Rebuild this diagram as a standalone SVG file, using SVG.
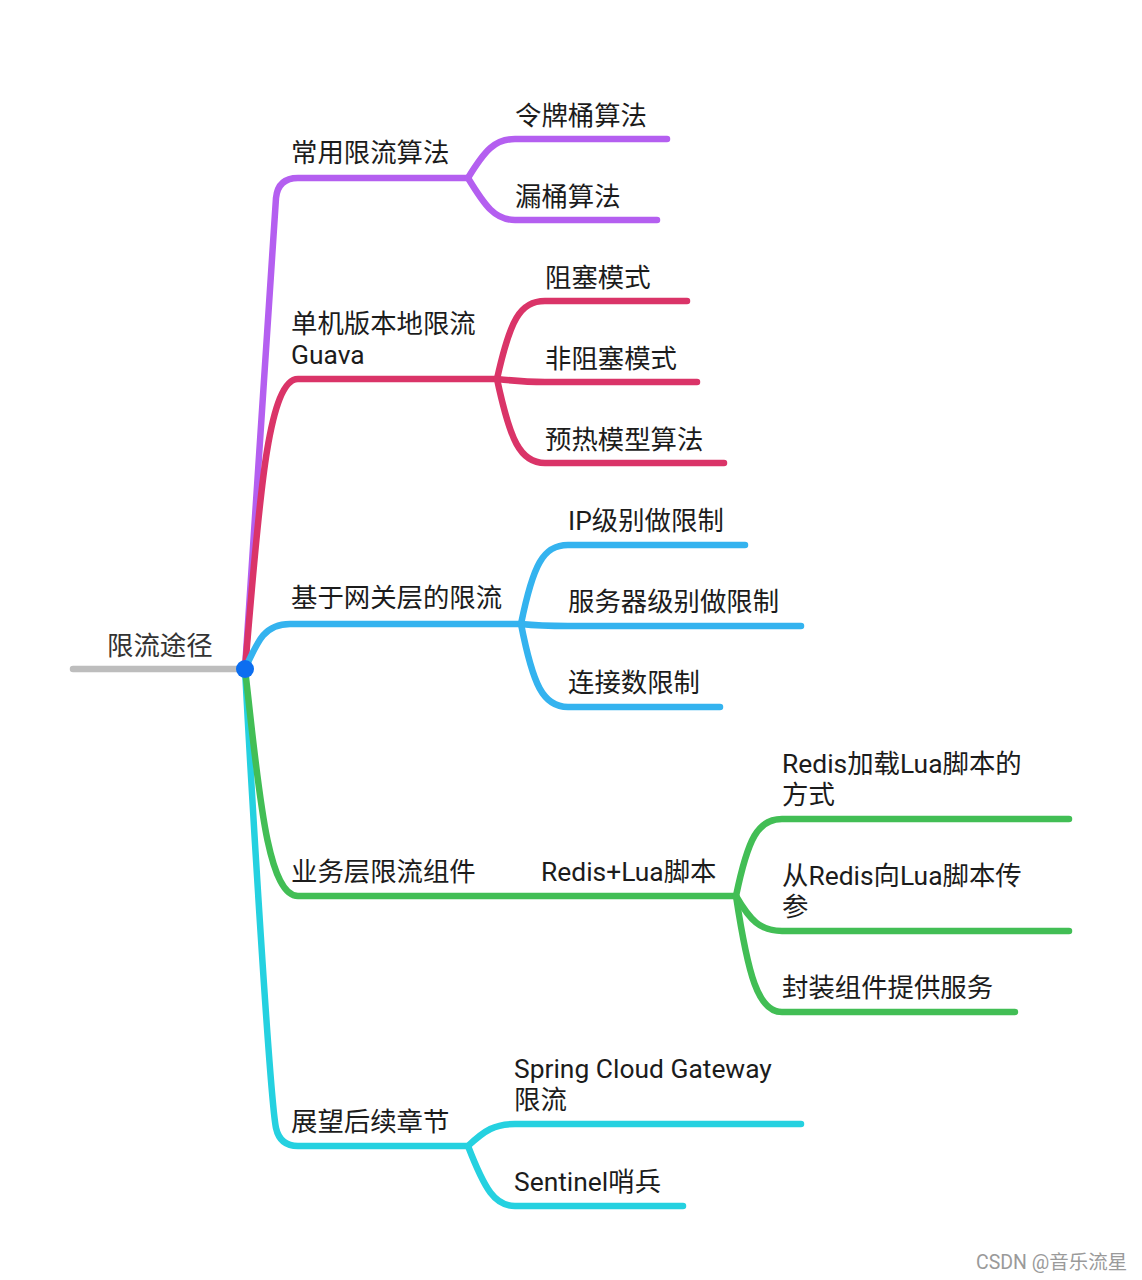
<svg xmlns="http://www.w3.org/2000/svg" width="1142" height="1280" viewBox="0 0 1142 1280">
<style>
text{font-family:Roboto,"Noto Sans CJK SC",sans-serif;font-size:26.4px;fill:#1c1c1c}
.l{fill:none;stroke-width:6.5;stroke-linecap:round;stroke-linejoin:round}
.pu{stroke:#b45ff0}.re{stroke:#da3468}.bl{stroke:#34b3ef}.gr{stroke:#42be55}.cy{stroke:#25d1e0}
.wm{font-size:19.5px;fill:#9a9a9a}
</style>
<rect width="1142" height="1280" fill="#ffffff"/>
<g id="connectors">
<path class="l" stroke="#bdbdbd" d="M73,669 L245,669"/>
<path class="l cy" d="M245,669 C252,800 270,1100 276,1128 Q280,1146 298,1146 L468,1146"/>
<path class="l cy" d="M468,1146 C485,1130 495,1124 515,1124 L801,1124"/>
<path class="l cy" d="M468,1146 C485,1190 495,1206 515,1206 L683,1206"/>
<path class="l gr" d="M245,669 C258,780 266,896 298,896 L736,896"/>
<path class="l gr" d="M736,896 C748,838 758,819 782,819 L1069,819"/>
<path class="l gr" d="M736,896 C750,920 760,931 782,931 L1069,931"/>
<path class="l gr" d="M736,896 C748,975 758,1012 782,1012 L1015,1012"/>
<path class="l pu" d="M245,669 C258,480 270,300 276,198 Q278,178 298,178 L468,178"/>
<path class="l pu" d="M468,178 C485,150 495,139 515,139 L667,139"/>
<path class="l pu" d="M468,178 C485,206 495,220 515,220 L657,220"/>
<path class="l re" d="M245,669 C258,520 266,379 298,379 L497,379"/>
<path class="l re" d="M497,379 C510,320 520,301 545,301 L687,301"/>
<path class="l re" d="M497,379 C515,381 525,382 545,382 L697,382"/>
<path class="l re" d="M497,379 C510,440 520,463 545,463 L724,463"/>
<path class="l bl" d="M245,669 C258,640 265,624 290,624 L521,624"/>
<path class="l bl" d="M521,624 C533,565 543,545 568,545 L745,545"/>
<path class="l bl" d="M521,624 C540,626 550,626 568,626 L801,626"/>
<path class="l bl" d="M521,624 C533,685 543,707 568,707 L720,707"/>
</g>
<g id="root"><text x="107" y="655" style="fill:#333">限流途径</text><circle cx="245" cy="669" r="9" fill="#0c6ef0"/></g>
<g id="n1"><text x="291" y="162">常用限流算法</text></g>
<g id="n1a"><text x="515" y="125">令牌桶算法</text></g>
<g id="n1b"><text x="515" y="206">漏桶算法</text></g>
<g id="n2"><text x="291" y="333">单机版本地限流</text><text x="291" y="364">Guava</text></g>
<g id="n2a"><text x="545" y="287">阻塞模式</text></g>
<g id="n2b"><text x="545" y="368">非阻塞模式</text></g>
<g id="n2c"><text x="545" y="449">预热模型算法</text></g>
<g id="n3"><text x="291" y="607">基于网关层的限流</text></g>
<g id="n3a"><text x="568" y="530">IP级别做限制</text></g>
<g id="n3b"><text x="568" y="611">服务器级别做限制</text></g>
<g id="n3c"><text x="568" y="692">连接数限制</text></g>
<g id="n4"><text x="291" y="881">业务层限流组件</text></g>
<g id="n4a"><text x="541" y="881">Redis+Lua脚本</text></g>
<g id="n4a1"><text x="782" y="773">Redis加载Lua脚本的</text><text x="782" y="804">方式</text></g>
<g id="n4a2"><text x="782" y="885">从Redis向Lua脚本传</text><text x="782" y="916">参</text></g>
<g id="n4a3"><text x="782" y="997">封装组件提供服务</text></g>
<g id="n5"><text x="291" y="1131">展望后续章节</text></g>
<g id="n5a"><text x="514" y="1078">Spring Cloud Gateway</text><text x="514" y="1109">限流</text></g>
<g id="n5b"><text x="514" y="1191">Sentinel哨兵</text></g>
<text class="wm" x="976" y="1269">CSDN @音乐流星</text>
</svg>
